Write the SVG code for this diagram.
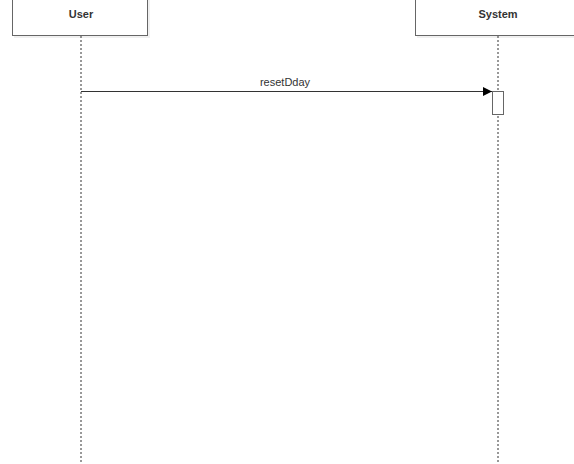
<svg xmlns="http://www.w3.org/2000/svg" width="574" height="464" viewBox="0 0 574 464">
<style>
.box{fill:#fff;stroke:#666;stroke-width:1}
.shadow{fill:#000;opacity:0.06}
.life{stroke:#333;stroke-width:1;stroke-dasharray:2 2;fill:none}
.title{font-family:"Liberation Sans",Arial,sans-serif;font-size:11px;font-weight:bold;fill:#333;text-anchor:middle}
.lbl{font-family:"Liberation Sans",Arial,sans-serif;font-size:11px;fill:#333;text-anchor:middle}
.msg{stroke:#333;stroke-width:1;fill:none}
</style>
<defs>
<marker id="arr" viewBox="0 0 10 10" refX="10" refY="5" markerWidth="10" markerHeight="9" markerUnits="userSpaceOnUse" orient="auto">
<path d="M0,0 L10,5 L0,10 z" fill="#000"/>
</marker>
</defs>
<rect width="574" height="464" fill="#fff"/>
<g id="user">
<rect class="shadow" x="14" y="-10" width="136" height="48"/>
<rect class="box" x="12.5" y="-12" width="135" height="47.5"/>
<text class="title" x="81" y="18">User</text>
<line class="life" x1="81" y1="36" x2="81" y2="464"/>
</g>
<g id="system">
<rect class="shadow" x="417" y="-10" width="160" height="48"/>
<rect class="box" x="415.5" y="-12" width="170" height="47.5"/>
<text class="title" x="498" y="18">System</text>
<line class="life" x1="498" y1="36" x2="498" y2="464"/>
</g>
<g id="activation">
<rect class="box" x="492.5" y="91.5" width="11" height="23"/>
</g>
<g id="connectors">
<line class="msg" x1="81" y1="91.5" x2="492" y2="91.5" marker-end="url(#arr)"/>
<text class="lbl" x="285" y="86">resetDday</text>
</g>
</svg>
